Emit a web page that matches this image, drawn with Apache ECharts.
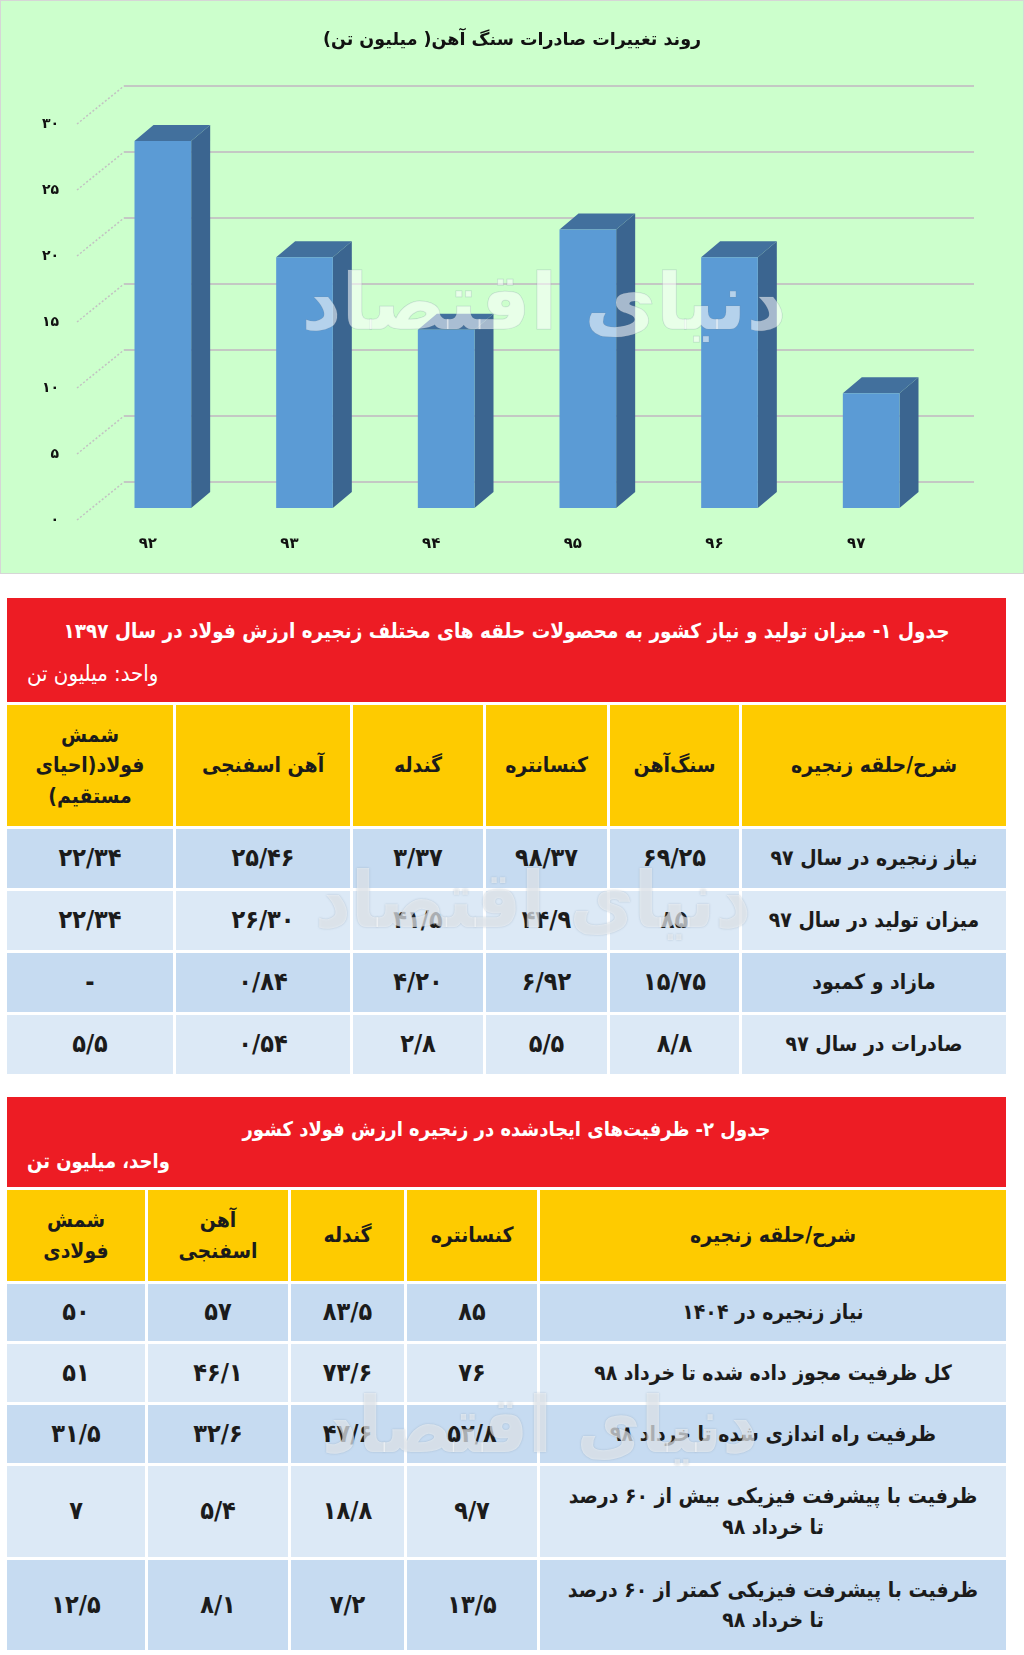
<!DOCTYPE html>
<html lang="fa">
<head>
    <meta charset="UTF-8">
    <title>روند تغییرات صادرات سنگ آهن</title>
    <style>
        body {
            margin: 0;
            background: #fff;
            width: 1024px;
            height: 1655px;
            position: relative;
            font-family: 'DejaVu Sans Condensed', 'DejaVu Sans', sans-serif;
        }

        #chart {
            position: absolute;
            left: 0;
            top: 0;
            width: 1022px;
            height: 572px;
            border: 1px solid #d6d6d6;
        }

        .tbl {
            position: absolute;
            left: 7px;
            width: 999px;
            direction: rtl;
        }

        .head {
            background: #ed1c24;
            color: #fff;
            position: relative;
        }

        .t-title {
            position: absolute;
            left: 0;
            right: 0;
            text-align: center;
            font-weight: bold;
            line-height: 30px;
        }

        .t-unit {
            position: absolute;
            left: 20px;
            line-height: 30px;
        }

        .grid {
            display: grid;
            gap: 3px;
            margin-top: 3px;
        }

        .cell {
            display: flex;
            align-items: center;
            justify-content: center;
            text-align: center;
            white-space: pre-line;
            font-weight: bold;
            color: #1b1b1b;
            line-height: 1.45;
        }

        .yh { background: #fecb00; font-size: 21px; }
        .dk { background: #c6dbf1; font-size: 21px; }
        .lt { background: #dce9f6; font-size: 21px; }
        .num { font-size: 25px; }

        .wm {
            position: absolute;
            font-weight: bold;
            font-size: 78px;
            color: rgba(255, 255, 255, 0.55);
            text-shadow: 0 0 2px rgba(120, 140, 160, 0.45);
            direction: rtl;
            white-space: nowrap;
            pointer-events: none;
        }
    </style>
</head>
<body>
<div id="chart" dir="rtl"></div>

<div class="tbl" id="t1" style="top:598px">
    <div class="head" style="height:104px">
        <div class="t-title" id="t1title" style="top:18px;font-size:20.5px"></div>
        <div class="t-unit" id="t1unit" style="top:61px;font-size:22px"></div>
    </div>
    <div class="grid" id="t1grid"
         style="grid-template-columns:264px 129px 121px 130px 174px 166px;grid-template-rows:121px 59px 59px 59px 59px"></div>
</div>

<div class="tbl" id="t2" style="top:1097px">
    <div class="head" style="height:90px">
        <div class="t-title" id="t2title" style="top:17px;font-size:20px"></div>
        <div class="t-unit" id="t2unit" style="top:49px;font-size:20px;font-weight:bold"></div>
    </div>
    <div class="grid" id="t2grid"
         style="grid-template-columns:466px 130px 113px 140px 138px;grid-template-rows:91px 57px 58px 58px 91px 90px"></div>
</div>

<div class="wm" style="left:315px;top:855px">دنیای اقتصاد</div>
<div class="wm" style="left:322px;top:1380px">دنیای اقتصاد</div>

<script src="https://cdn.jsdelivr.net/npm/echarts@6/dist/echarts.min.js"></script>
<script>
    // chart data
    const chartTitle = 'روند تغییرات صادرات سنگ آهن( میلیون تن)'
    const years = [92, 93, 94, 95, 96, 97]
    const exportsMt = [27.8, 19.0, 13.5, 21.1, 19.0, 8.7]
    const yTicks = [0, 5, 10, 15, 20, 25, 30]

    // table 1
    const t1Title = 'جدول ۱- میزان تولید و نیاز کشور به محصولات حلقه های مختلف زنجیره ارزش فولاد در سال ۱۳۹۷'
    const t1Unit = 'واحد: میلیون تن'
    const t1Head = ['شرح/حلقه  زنجیره', 'سنگ‌آهن', 'کنسانتره', 'گندله', 'آهن اسفنجی', 'شمش\nفولاد(احیای\nمستقیم)']
    const t1Labels = ['نیاز زنجیره در سال 97', 'میزان تولید در سال 97', 'مازاد و کمبود', 'صادرات در سال 97']
    const t1Ore = ['69/25', '85', '15/75', '8/8']
    const t1Conc = ['98/37', '44/9', '6/92', '5/5']
    const t1Pellet = ['3/37', '41/5', '4/20', '2/8']
    const t1Dri = ['25/46', '26/30', '0/84', '0/54']
    const t1Billet = ['22/34', '22/34', '-', '5/5']

    // table 2
    const t2Title = 'جدول ۲- ظرفیت‌های ایجادشده در زنجیره ارزش فولاد کشور'
    const t2Unit = 'واحد، میلیون تن'
    const t2Head = ['شرح/حلقه زنجیره', 'کنسانتره', 'گندله', 'آهن\nاسفنجی', 'شمش\nفولادی']
    const t2Labels = [
        'نیاز زنجیره در 1404',
        'کل ظرفیت مجوز داده شده تا خرداد 98',
        'ظرفیت راه اندازی شده تا خرداد 98',
        'ظرفیت با پیشرفت فیزیکی بیش از 60 درصد\nتا خرداد 98',
        'ظرفیت با پیشرفت فیزیکی کمتر از 60 درصد\nتا خرداد 98'
    ]
    const t2Conc = ['85', '76', '52/8', '9/7', '13/5']
    const t2Pellet = ['83/5', '73/6', '47/6', '18/8', '7/2']
    const t2Dri = ['57', '46/1', '32/6', '5/4', '8/1']
    const t2Billet = ['50', '51', '31/5', '7', '12/5']

    const faDigits = '۰۱۲۳۴۵۶۷۸۹'
    const toFa = s => String(s).replace(/\d/g, d => faDigits[d])

    // 3d look offsets (back wall and bar depth)
    const WALL_DX = 47, WALL_DY = 38
    const BAR_DX = 15, BAR_DY = 12
    const SIDE_DX = 19, SIDE_DY = 16

    let myChart = echarts.init(document.querySelector('#chart'))
    let option = {
        backgroundColor: '#ccffcc',
        animation: false,
        title: {
            text: chartTitle,
            left: 'center',
            top: 25,
            textStyle: {
                fontFamily: 'DejaVu Sans',
                fontSize: 17.5,
                fontWeight: 'bold',
                color: '#111'
            }
        },
        graphic: [{
            type: 'text',
            left: 300,
            top: 268,
            z: 100,
            style: {
                text: 'دنیای اقتصاد',
                font: 'bold 78px DejaVu Sans',
                fill: 'rgba(255,255,255,0.55)',
                stroke: 'rgba(120,140,160,0.3)',
                lineWidth: 1
            }
        }],
        grid: {
            left: 76,
            right: 96,
            top: 123,
            bottom: 53
        },
        xAxis: {
            type: 'category',
            data: years.map(toFa),
            axisLine: {show: false},
            axisTick: {show: false},
            axisLabel: {
                margin: 17,
                fontFamily: 'DejaVu Sans',
                fontSize: 15,
                fontWeight: 'bold',
                color: '#111'
            }
        },
        yAxis: {
            type: 'value',
            min: 0,
            max: 30,
            interval: 5,
            splitLine: {show: false},
            axisLine: {show: false},
            axisLabel: {
                margin: 18,
                fontFamily: 'DejaVu Sans',
                fontSize: 14,
                fontWeight: 'bold',
                color: '#111',
                formatter: v => toFa(v)
            }
        },
        series: [
            {
                name: 'grid',
                type: 'custom',
                silent: true,
                z: 1,
                data: yTicks.map(v => [0, v]),
                renderItem: function (params, api) {
                    let cs = params.coordSys
                    let y = api.coord([0, api.value(1)])[1]
                    return {
                        type: 'group',
                        children: [
                            {
                                type: 'line',
                                shape: {x1: cs.x, y1: y, x2: cs.x + WALL_DX, y2: y - WALL_DY},
                                style: {stroke: '#c2c2c2', lineWidth: 1.5, lineDash: [2, 2]}
                            },
                            {
                                type: 'line',
                                shape: {x1: cs.x + WALL_DX, y1: y - WALL_DY, x2: cs.x + cs.width + WALL_DX, y2: y - WALL_DY},
                                style: {stroke: '#c4c8c4', lineWidth: 2}
                            }
                        ]
                    }
                }
            },
            {
                name: 'exports',
                type: 'custom',
                z: 2,
                data: exportsMt.map((v, i) => [i, v]),
                renderItem: function (params, api) {
                    let base = api.coord([api.value(0), 0])
                    let top = api.coord([api.value(0), api.value(1)])
                    let bw = api.size([1, 0])[0] * 0.4
                    let x = base[0] + BAR_DX - bw / 2
                    let y = top[1] - BAR_DY
                    let h = base[1] - top[1]
                    return {
                        type: 'group',
                        children: [
                            {
                                type: 'polygon',
                                shape: {points: [[x + bw, y], [x + bw + SIDE_DX, y - SIDE_DY], [x + bw + SIDE_DX, y + h - SIDE_DY], [x + bw, y + h]]},
                                style: {fill: '#3b6590'}
                            },
                            {
                                type: 'polygon',
                                shape: {points: [[x, y], [x + SIDE_DX, y - SIDE_DY], [x + bw + SIDE_DX, y - SIDE_DY], [x + bw, y]]},
                                style: {fill: '#42709d'}
                            },
                            {
                                type: 'rect',
                                shape: {x: x, y: y, width: bw, height: h},
                                style: {fill: '#5b9bd5'}
                            }
                        ]
                    }
                }
            }
        ]
    }
    myChart.setOption(option)

    // tables
    function fillTable(gridId, head, labels, cols) {
        let grid = document.getElementById(gridId)
        head.forEach(txt => {
            let c = document.createElement('div')
            c.className = 'cell yh'
            c.textContent = txt
            grid.appendChild(c)
        })
        labels.forEach((lab, r) => {
            let cls = r % 2 === 0 ? 'cell dk' : 'cell lt'
            let row = [lab].concat(cols.map(col => col[r]))
            row.forEach((txt, i) => {
                let c = document.createElement('div')
                c.className = i === 0 ? cls : cls + ' num'
                c.textContent = toFa(txt)
                grid.appendChild(c)
            })
        })
    }

    document.getElementById('t1title').textContent = t1Title
    document.getElementById('t1unit').textContent = t1Unit
    fillTable('t1grid', t1Head, t1Labels, [t1Ore, t1Conc, t1Pellet, t1Dri, t1Billet])

    document.getElementById('t2title').textContent = t2Title
    document.getElementById('t2unit').textContent = t2Unit
    fillTable('t2grid', t2Head, t2Labels, [t2Conc, t2Pellet, t2Dri, t2Billet])
</script>
</body>
</html>
